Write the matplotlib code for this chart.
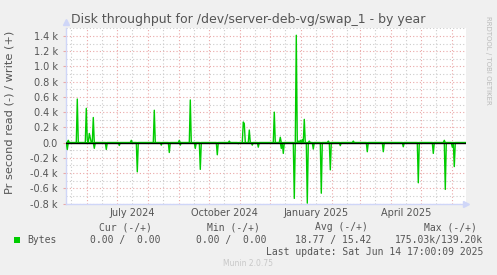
import matplotlib
matplotlib.use("Agg")
import matplotlib.pyplot as plt
import matplotlib.dates as mdates
from matplotlib.patches import Rectangle
import pandas as pd
import numpy as np

# ---------------- data ----------------
end_time = pd.Timestamp("2025-06-14 17:00")
start_time = end_time - pd.Timedelta(days=400)

write_dates = ["2024-05-13", "2024-05-22", "2024-05-31", "2024-06-01", "2024-06-03",
               "2024-06-04", "2024-06-07", "2024-07-15", "2024-08-07", "2024-09-01",
               "2024-09-12", "2024-10-21", "2024-11-04", "2024-11-05", "2024-11-10",
               "2024-12-05", "2024-12-11", "2024-12-27", "2024-12-29", "2024-12-31",
               "2025-01-02", "2025-01-04", "2025-01-09", "2025-01-28", "2025-02-22",
               "2025-05-24"]
write_values = [30, 572, 450, 30, 120, 60, 330, 30, 425, 30,
                560, 20, 270, 250, 165, 400, 70, 1410, 20, 30,
                40, 305, 20, 20, 20, 30]

read_dates = ["2024-05-12", "2024-06-08", "2024-06-20", "2024-07-03", "2024-07-21",
              "2024-08-14", "2024-08-22", "2024-09-02", "2024-09-17", "2024-09-22",
              "2024-10-09", "2024-10-30", "2024-11-13", "2024-11-19", "2024-12-12",
              "2024-12-14", "2024-12-25", "2025-01-07", "2025-01-13", "2025-01-21",
              "2025-01-30", "2025-02-09", "2025-03-08", "2025-03-24", "2025-04-13",
              "2025-04-28", "2025-05-13", "2025-05-25", "2025-06-01", "2025-06-03"]
read_values = [90, 75, 90, 38, 384, 33, 130, 33, 77, 352,
               160, 15, 33, 60, 77, 142, 733, 795, 85, 665,
               358, 40, 120, 120, 55, 528, 142, 615, 60, 315]

y_ticks = [-800, -600, -400, -200, 0, 200, 400, 600, 800, 1000, 1200, 1400]
y_tick_labels = ["-0.8 k", "-0.6 k", "-0.4 k", "-0.2 k", "0.0", "0.2 k", "0.4 k",
                 "0.6 k", "0.8 k", "1.0 k", "1.2 k", "1.4 k"]
x_label_dates = ["2024-07-16", "2024-10-16", "2025-01-16", "2025-04-16"]
x_labels = ["July 2024", "October 2024", "January 2025", "April 2025"]

legend_headers = ["Cur (-/+)", "Min (-/+)", "Avg (-/+)", "Max (-/+)"]
legend_values = ["0.00 /  0.00", "0.00 /  0.00", "18.77 / 15.42", "175.03k/139.20k"]

# ---------------- build daily series ----------------
days = pd.date_range(start_time.normalize(), end_time.normalize(), freq="D")
write_s = pd.Series(0.0, index=days)
read_s = pd.Series(0.0, index=days)
for d, v in zip(write_dates, write_values):
    write_s[pd.Timestamp(d)] = v
for d, v in zip(read_dates, read_values):
    read_s[pd.Timestamp(d)] = v

# ---------------- figure ----------------
W, H = 497, 275
fig = plt.figure(figsize=(W / 100, H / 100), dpi=100)
fig.patch.set_facecolor("#F0F0F0")

def fx(px):
    return px / W

def fy(py):
    return 1 - py / H

L, R, T, B = 66, 466, 28.4, 203.5
ax = fig.add_axes([fx(L), fy(B), fx(R) - fx(L), fy(T) - fy(B)])
ax.set_facecolor("white")

ax.set_xlim(start_time, end_time)
ax.set_ylim(-800, 1500)

MAJ = "#EAA8A8"
MIN = "#CCCCCC"
for yv in np.arange(-800, 1501, 100):
    col = MAJ if yv % 200 == 0 else MIN
    ax.axhline(yv, color=col, lw=0.8, ls=(0, (1, 2)), zorder=1)
months = pd.date_range("2024-05-01", "2025-07-01", freq="MS")
for m in months:
    ax.axvline(m, color=MAJ, lw=0.8, ls=(0, (1, 2)), zorder=1)
    ax.axvline(m + pd.Timedelta(days=15), color=MIN, lw=0.8, ls=(0, (1, 2)), zorder=1)

green = "#00CC00"
ax.plot(write_s.index, write_s.values, color=green, lw=1.0, zorder=3)
ax.plot(read_s.index, -read_s.values, color=green, lw=1.0, zorder=3)
ax.axhline(0, color="black", lw=1.0, zorder=4)

for s in ["top", "right"]:
    ax.spines[s].set_visible(False)
axis_col = "#CFD6F8"
ax.spines["left"].set_color(axis_col)
ax.spines["bottom"].set_color(axis_col)
ax.spines["left"].set_linewidth(1)
ax.spines["bottom"].set_linewidth(1)

ax.set_yticks(y_ticks)
ax.set_yticklabels(y_tick_labels)
ax.tick_params(axis="y", length=2, color=MAJ, labelsize=7, labelcolor="#555555", pad=4)
ax.set_xticks(mdates.date2num(pd.to_datetime(x_label_dates)))
ax.set_xticklabels(x_labels)
ax.tick_params(axis="x", length=0, labelsize=7, labelcolor="#555555", pad=3)
for lab in ax.get_yticklabels() + ax.get_xticklabels():
    lab.set_family("DejaVu Sans")

ax.plot([1.0], [0.0], marker=">", ms=4, color=axis_col, transform=ax.transAxes, clip_on=False)
ax.plot([0.0], [1.035], marker="^", ms=4, color=axis_col, transform=ax.transAxes, clip_on=False)

fig.text(fx(248), fy(19), "Disk throughput for /dev/server-deb-vg/swap_1 - by year",
         ha="center", va="center", fontsize=9, color="#555555", family="DejaVu Sans")
fig.text(fx(10), fy(112.5), "Pr second read (-) / write (+)", rotation=90,
         ha="center", va="center", fontsize=8.2, color="#555555", family="DejaVu Sans")
fig.text(fx(488), fy(60), "RRDTOOL / TOBI OETIKER", rotation=270,
         ha="center", va="center", fontsize=5, color="#BBBBBB", family="DejaVu Sans")

mono = "DejaVu Sans Mono"
fig.patches.append(Rectangle((fx(14), fy(243)), fx(6), 6 / H, transform=fig.transFigure,
                             facecolor=green, edgecolor="none"))
fig.text(fx(27), fy(240), "Bytes", ha="left", va="center", fontsize=7, color="#555555", family=mono)
hdr_x = [125, 233, 341, 450]
val_right = [161, 266, 371, 483]
for hx, h in zip(hdr_x, legend_headers):
    fig.text(fx(hx), fy(227.5), h, ha="center", va="center", fontsize=7, color="#555555", family=mono)
for vx, v in zip(val_right, legend_values):
    fig.text(fx(vx), fy(240), v, ha="right", va="center", fontsize=7, color="#555555", family=mono)
fig.text(fx(483), fy(252), "Last update: Sat Jun 14 17:00:09 2025", ha="right", va="center",
         fontsize=7, color="#555555", family=mono)
fig.text(fx(248), fy(264), "Munin 2.0.75", ha="center", va="center", fontsize=5.5,
         color="#C8C8C8", family="DejaVu Sans")

fig.savefig("out.png", dpi=100, facecolor=fig.get_facecolor())
